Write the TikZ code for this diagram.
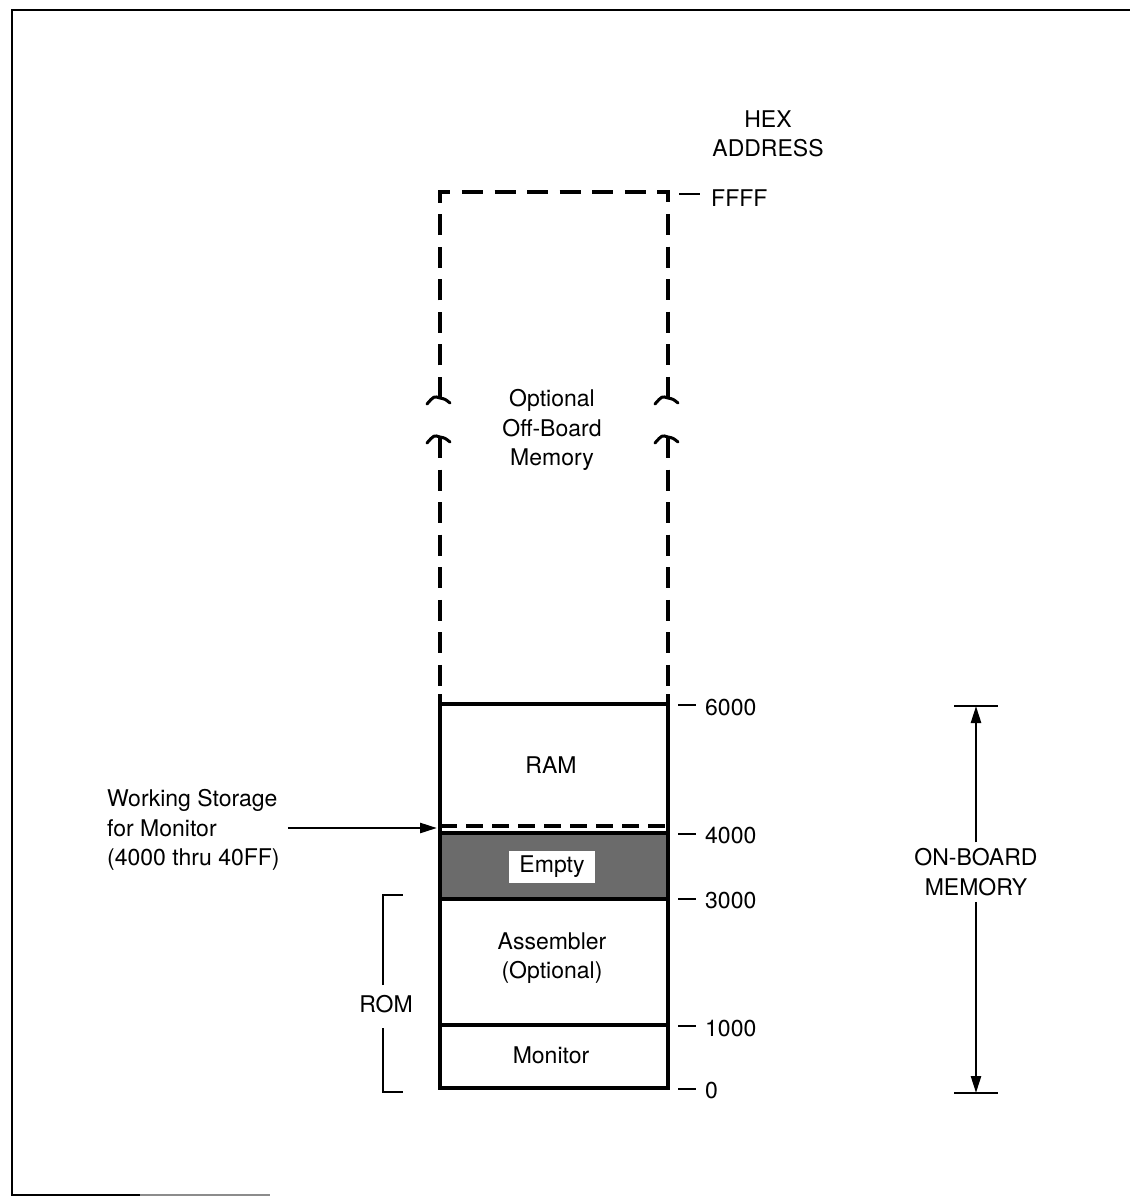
\documentclass[tikz,border=0pt]{standalone}
\usepackage{fontspec}
\setmainfont{TeX Gyre Heros}
\usetikzlibrary{arrows.meta}
\newcommand{\breakmark}[2]{\draw[brk] (#1-13,#2+6) .. controls (#1-6,#2-2) .. (#1,#2) .. controls (#1+5,#2+1) .. (#1+10,#2+5);}
\begin{document}
\begin{tikzpicture}[x=1pt,y=-1pt,
  lbl/.style={font=\fontsize{23}{29.5}\selectfont, inner sep=0pt, align=center},
  boxline/.style={line width=3.6pt},
  dashline/.style={line width=3.8pt, dash pattern=on 21pt off 11.57pt},
  tickline/.style={line width=2.5pt},
  arr/.style={line width=2.5pt, -{Triangle[length=17pt,width=10pt]}},
  brk/.style={line width=3pt, line cap=round},
]
\useasboundingbox (0,0) rectangle (1130,1197);
% frame
\draw[line width=2.6pt] (1130,10) -- (12,10) -- (12,1195) -- (140,1195);
\draw[line width=2pt, black!45] (140,1195) -- (270,1195);

% optional off-board region (dashed)
\draw[dashline] (440,398) -- (440,192) -- (668,192) -- (668,398);
\draw[dashline] (440,437) -- (440,696);
\draw[dashline] (668,437) -- (668,696);
\breakmark{440}{398}
\breakmark{668}{398}
\breakmark{440}{437}
\breakmark{668}{437}

% on-board memory box
\fill[black!58] (440,833) rectangle (668,899);
\draw[boxline] (440,694) -- (440,1088) -- (668,1088) -- (668,694);
\draw[boxline] (440,704) -- (668,704);
\draw[boxline] (440,833) -- (668,833);
\draw[boxline] (440,899) -- (668,899);
\draw[boxline] (440,1025) -- (668,1025);
\draw[line width=3.2pt, dash pattern=on 17pt off 9pt] (440,826) -- (668,826);

% region labels
\node[lbl] (opt) at (552,430) {Optional\\Off-Board\\Memory};
\node[lbl] (ram) at (551,765) {RAM};
\node[lbl, fill=white, inner xsep=10pt, inner ysep=5pt] (empty) at (552,867) {Empty};
\node[lbl] (asm) at (552,958) {Assembler\\(Optional)};
\node[lbl] (mon) at (551,1055) {Monitor};

% address header
\node[lbl] (hex) at (768,134) {HEX\\ADDRESS};

% address labels with ticks
\node[lbl, anchor=west] (aF) at (711,198) {FFFF};
\node[lbl, anchor=west] (a6) at (705,708) {6000};
\node[lbl, anchor=west] (a4) at (705,836) {4000};
\node[lbl, anchor=west] (a3) at (705,901) {3000};
\node[lbl, anchor=west] (a1) at (705,1029) {1000};
\node[lbl, anchor=west] (a0) at (705,1091) {0};
\draw[tickline] (679,194) -- (700,194);
\draw[tickline] (678,705) -- (696,705);
\draw[tickline] (678,834) -- (696,834);
\draw[tickline] (678,899) -- (696,899);
\draw[tickline] (678,1026) -- (696,1026);
\draw[tickline] (678,1089) -- (696,1089);

% working storage pointer
\node[lbl, anchor=west, align=left] (ws) at (107,830) {Working Storage\\for Monitor\\(4000 thru 40FF)};
\coordinate (wsT) at (437,828);
\draw[arr, shorten <=8pt] (ws.east |- wsT) -- (wsT);

% ROM bracket
\node[lbl] (rom) at (386,1004) {ROM};
\draw[tickline] (383,985) -- (383,895) -- (403,895);
\draw[tickline] (383,1028) -- (383,1092) -- (403,1092);

% on-board memory dimension
\node[lbl] (ob) at (976,872) {ON-BOARD\\MEMORY};
\coordinate (obT) at (976,706);
\coordinate (obB) at (976,1093);
\draw[arr, shorten <=6pt] (ob.north) -- (obT);
\draw[arr, shorten <=6pt] (ob.south) -- (obB);
\draw[tickline] (954,706) -- (998,706);
\draw[tickline] (954,1093) -- (998,1093);
\end{tikzpicture}
\end{document}
